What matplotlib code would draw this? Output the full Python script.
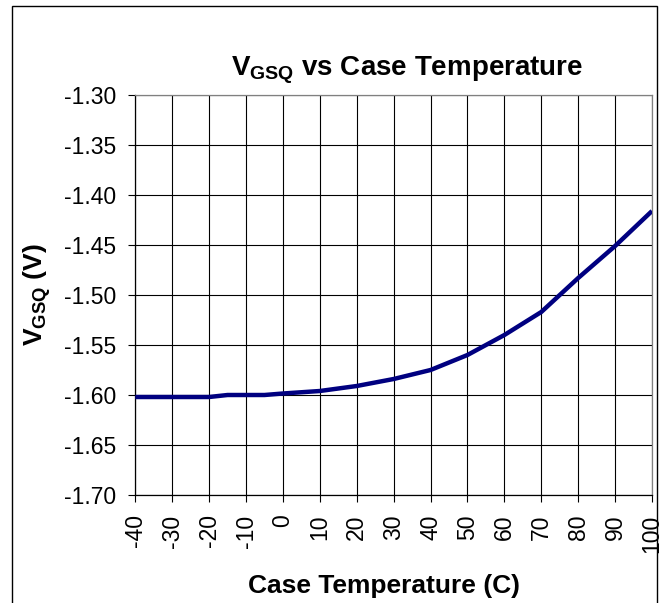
import matplotlib
matplotlib.use("Agg")
import matplotlib.pyplot as plt
from matplotlib.patches import Rectangle

plt.rcParams['font.family'] = ['Liberation Sans', 'DejaVu Sans']
plt.rcParams['mathtext.fontset'] = 'custom'
plt.rcParams['mathtext.rm'] = 'Liberation Sans'
plt.rcParams['mathtext.bf'] = 'Liberation Sans:bold'
plt.rcParams['mathtext.it'] = 'Liberation Sans:italic'

# Data
temps = [-40, -30, -20, -15, -5, 0, 10, 20, 30, 40, 50, 60, 70, 80, 90, 100]
vgsq = [-1.602, -1.602, -1.602, -1.600, -1.600, -1.5985, -1.596, -1.591,
        -1.584, -1.575, -1.560, -1.540, -1.517, -1.483, -1.451, -1.416]
x_ticks = list(range(-40, 101, 10))
x_tick_labels = [str(t) for t in x_ticks]
y_ticks = [-1.70, -1.65, -1.60, -1.55, -1.50, -1.45, -1.40, -1.35, -1.30]
y_tick_labels = [f"{v:.2f}" for v in y_ticks]

W, H = 664, 603
fig = plt.figure(figsize=(W / 100, H / 100), dpi=100)
ax = fig.add_axes([135.3 / W, 1 - 495 / H, (652 - 135.3) / W, (495 - 95) / H])

ax.plot(temps, vgsq, color='#000080', linewidth=3.2, solid_joinstyle='round',
        solid_capstyle='butt', zorder=3)

ax.set_xlim(-40, 100)
ax.set_ylim(-1.70, -1.30)
ax.set_xticks(x_ticks)
ax.set_xticklabels(x_tick_labels, rotation=90, fontsize=16.5)
ax.set_yticks(y_ticks)
ax.set_yticklabels(y_tick_labels, fontsize=16.5)
ax.tick_params(axis='both', direction='out', length=5, width=0.8, color='black')
ax.tick_params(axis='y', pad=9)
ax.tick_params(axis='x', pad=9)

ax.grid(True, color='black', linewidth=0.8, zorder=1)
ax.set_axisbelow(True)
for s in ['left', 'bottom']:
    ax.spines[s].set_color('black')
    ax.spines[s].set_linewidth(0.9)
for s in ['top', 'right']:
    ax.spines[s].set_color('#808080')
    ax.spines[s].set_linewidth(0.9)

fig.text(0.613, 1 - 76 / H, r'$\mathbf{V_{GSQ}}$ vs Case Temperature',
         ha='center', va='baseline', fontsize=20, fontweight='bold')
fig.text(0.578, 1 - 586 / H, 'Case Temperature (C)', ha='center', va='center',
         fontsize=19, fontweight='bold')
fig.text(37 / W, 1 - 295 / H, r'$\mathbf{V_{GSQ}}$ (V)', ha='center', va='center',
         rotation=90, fontsize=19, fontweight='bold')

fig.patches.append(Rectangle((12 / W, -0.05), (657 - 12) / W, 1 - 6 / H + 0.05,
                             transform=fig.transFigure, fill=False,
                             edgecolor='black', linewidth=1.0))

fig.savefig('out.png', dpi=100)
